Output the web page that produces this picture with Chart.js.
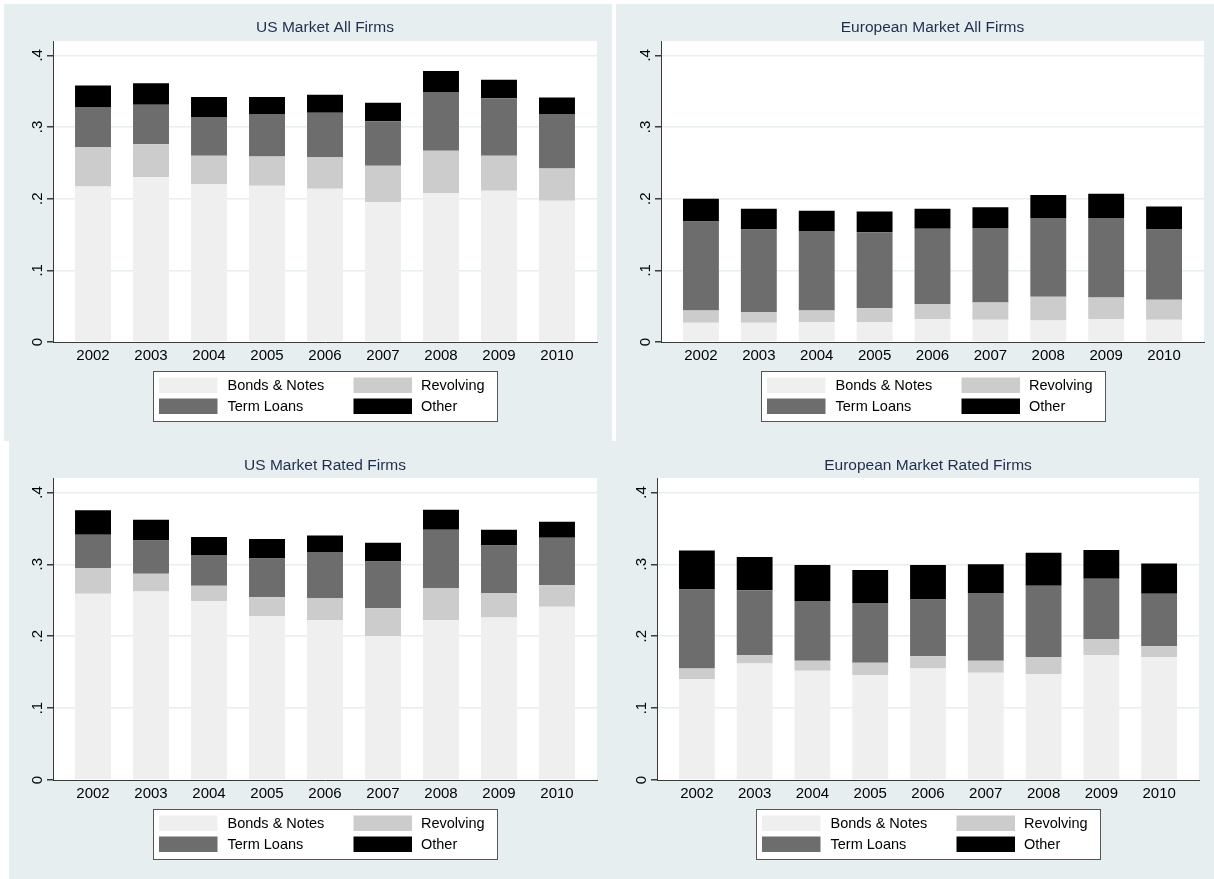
<!DOCTYPE html>
<html><head><meta charset="utf-8">
<script src="https://cdn.jsdelivr.net/npm/chart.js@4.4.0/dist/chart.umd.min.js"></script>
<style>
html,body{margin:0;padding:0;background:#fff;width:1214px;height:879px;overflow:hidden;position:relative}
.bg{position:absolute;background:#e7eeef}
canvas{position:absolute}
</style></head><body>
<div class="bg" style="left:4px;top:4px;width:608px;height:437px"></div>
<div class="bg" style="left:616px;top:4px;width:598px;height:437px"></div>
<div class="bg" style="left:9px;top:441px;width:1205px;height:438px"></div>
<canvas id="c1" width="608" height="437" style="left:4px;top:4px"></canvas>
<canvas id="c2" width="598" height="437" style="left:616px;top:4px"></canvas>
<canvas id="c3" width="608" height="438" style="left:4px;top:441px"></canvas>
<canvas id="c4" width="598" height="438" style="left:616px;top:441px"></canvas>
<script>
// ---- data ----
const years = ['2002','2003','2004','2005','2006','2007','2008','2009','2010'];
const yTickLabels = ['0','.1','.2','.3','.4'];
const seriesNames = ['Bonds & Notes','Revolving','Term Loans','Other'];

const usAllBonds   = [0.217,0.230,0.220,0.218,0.214,0.195,0.208,0.211,0.197];
const usAllRevolv  = [0.055,0.046,0.040,0.041,0.044,0.051,0.059,0.049,0.045];
const usAllTerm    = [0.056,0.055,0.054,0.059,0.062,0.062,0.082,0.080,0.076];
const usAllOther   = [0.030,0.030,0.028,0.024,0.025,0.026,0.029,0.026,0.023];

const euAllBonds   = [0.027,0.027,0.028,0.028,0.032,0.031,0.030,0.032,0.031];
const euAllRevolv  = [0.017,0.015,0.016,0.019,0.021,0.024,0.033,0.030,0.028];
const euAllTerm    = [0.124,0.115,0.111,0.106,0.105,0.104,0.110,0.111,0.098];
const euAllOther   = [0.032,0.029,0.028,0.029,0.028,0.029,0.032,0.034,0.032];

const usRatedBonds  = [0.259,0.262,0.249,0.228,0.222,0.200,0.222,0.226,0.241];
const usRatedRevolv = [0.036,0.025,0.021,0.026,0.031,0.039,0.045,0.034,0.030];
const usRatedTerm   = [0.046,0.046,0.043,0.054,0.064,0.065,0.081,0.066,0.066];
const usRatedOther  = [0.034,0.029,0.025,0.027,0.023,0.026,0.028,0.022,0.022];

const euRatedBonds  = [0.140,0.162,0.152,0.146,0.155,0.149,0.147,0.174,0.171];
const euRatedRevolv = [0.015,0.012,0.014,0.017,0.017,0.017,0.024,0.022,0.015];
const euRatedTerm   = [0.110,0.090,0.083,0.083,0.079,0.094,0.099,0.084,0.073];
const euRatedOther  = [0.054,0.046,0.050,0.046,0.048,0.040,0.046,0.040,0.042];

// ---- styling ----
const seriesColors = ['#efefef','#cccccc','#6d6d6d','#000000'];
const FONT = '"Liberation Sans", Arial, Helvetica, sans-serif';
Chart.defaults.font.family = FONT;

const plotBgPlugin = {
  id: 'plotBg',
  beforeDraw(chart) {
    const {ctx, chartArea} = chart;
    ctx.save();
    ctx.fillStyle = '#ffffff';
    ctx.fillRect(chartArea.left, chartArea.top, chartArea.right - chartArea.left, chartArea.bottom - chartArea.top);
    ctx.restore();
  }
};

const titlePlugin = {
  id: 'panelTitle',
  afterDraw(chart, args, opts) {
    const {ctx, chartArea} = chart;
    ctx.save();
    ctx.font = '15.5px ' + FONT;
    ctx.fillStyle = '#1f2d4d';
    ctx.textAlign = 'center';
    ctx.textBaseline = 'middle';
    ctx.fillText(opts.text, (chartArea.left + chartArea.right) / 2, opts.y);
    ctx.restore();
  }
};

const legendPlugin = {
  id: 'boxLegend',
  afterDraw(chart, args, opts) {
    const {ctx, chartArea} = chart;
    const w = 344, h = 50;
    const cx = (chartArea.left + chartArea.right) / 2;
    const left = Math.round(cx - w / 2) + 0.5;
    const top = Math.round(chartArea.bottom + opts.gap) + 0.5;
    ctx.save();
    ctx.fillStyle = '#ffffff';
    ctx.fillRect(left, top, w, h);
    ctx.strokeStyle = '#555555';
    ctx.lineWidth = 1;
    ctx.strokeRect(left, top, w, h);
    chart.data.datasets.forEach((ds, k) => {
      const col = k % 2, row = Math.floor(k / 2);
      const sx = left + (col ? 200 : 5.5);
      const sy = top + (row ? 27 : 6);
      ctx.fillStyle = ds.backgroundColor;
      ctx.fillRect(sx, sy, 58.5, 15.5);
      ctx.fillStyle = '#000';
      ctx.font = '14.5px ' + FONT;
      ctx.textAlign = 'left';
      ctx.textBaseline = 'middle';
      ctx.fillText(ds.label, sx + (col ? 67.5 : 68.5), sy + 8.5);
    });
    ctx.restore();
  }
};

function makePanel(canvasId, title, seriesValues, g) {
  const datasets = seriesValues.map((vals, k) => ({
    label: seriesNames[k],
    data: vals.map((v, i) => ({x: i, y: v})),
    backgroundColor: seriesColors[k],
    borderWidth: 0,
    barPercentage: 0.62,
    categoryPercentage: 1.0
  }));
  return new Chart(document.getElementById(canvasId), {
    type: 'bar',
    data: {datasets},
    options: {
      responsive: false,
      animation: false,
      devicePixelRatio: 1,
      layout: {padding: {left: 0, right: g.padRight, top: g.padTop, bottom: g.padBottom}},
      plugins: {
        legend: {display: false},
        tooltip: {enabled: false},
        panelTitle: {text: title, y: g.titleY},
        boxLegend: {gap: 29}
      },
      scales: {
        x: {
          type: 'linear', stacked: true, min: -0.69, max: 8.69, offset: false,
          grid: {display: false, drawTicks: false},
          border: {display: true, color: '#3a3a3a', width: 1},
          ticks: {stepSize: 1, includeBounds: false, autoSkip: false, maxRotation: 0, minRotation: 0,
                  padding: 5, color: '#000', font: {size: 15},
                  callback: (v) => (years[v] !== undefined ? years[v] : '')},
          afterFit: (s) => { s.height = 24; }
        },
        y: {
          stacked: true, min: 0, max: 0.42,
          grid: {
            color: (c) => (c.tick && c.tick.value === 0 ? 'rgba(0,0,0,0)' : '#e6eef0'),
            lineWidth: 1.5, tickColor: '#3a3a3a', tickLength: 6, drawTicks: true
          },
          border: {display: true, color: '#3a3a3a', width: 1},
          ticks: {stepSize: 0.1, includeBounds: false, minRotation: 90, maxRotation: 90,
                  crossAlign: 'center', padding: 3, color: '#000', font: {size: 15},
                  callback: (v, i) => yTickLabels[i]},
          afterFit: (s) => { s.width = g.yAxisWidth; }
        }
      }
    },
    plugins: [plotBgPlugin, titlePlugin, legendPlugin]
  });
}

makePanel('c1', 'US Market All Firms', [usAllBonds, usAllRevolv, usAllTerm, usAllOther],
  {yAxisWidth: 49, padRight: 15, padTop: 37, padBottom: 75, titleY: 24});
makePanel('c2', 'European Market All Firms', [euAllBonds, euAllRevolv, euAllTerm, euAllOther],
  {yAxisWidth: 45, padRight: 10, padTop: 37, padBottom: 75, titleY: 24});
makePanel('c3', 'US Market Rated Firms', [usRatedBonds, usRatedRevolv, usRatedTerm, usRatedOther],
  {yAxisWidth: 49, padRight: 15, padTop: 37, padBottom: 75, titleY: 25});
makePanel('c4', 'European Market Rated Firms', [euRatedBonds, euRatedRevolv, euRatedTerm, euRatedOther],
  {yAxisWidth: 41, padRight: 15, padTop: 37, padBottom: 75, titleY: 25});
</script>
</body></html>
